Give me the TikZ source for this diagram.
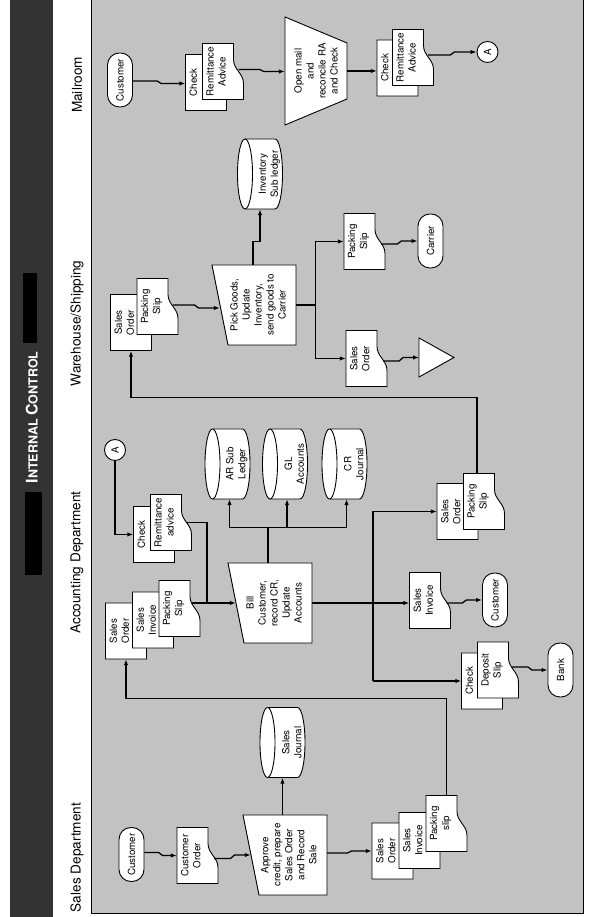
\documentclass[tikz,border=0pt]{standalone}
\usepackage{fontspec}
\setmainfont{TeX Gyre Heros}
\usetikzlibrary{arrows.meta, calc}

\newcommand{\boxfont}{\fontsize{9.8}{12}\selectfont}
% document symbol with curled lower edge
\newcommand{\docat}[3]{%
  \filldraw[shp] ($(#2)+(-28,20.5)$) -- ++(56,0) -- ++(0,-31) -- ++(-16,0)
    to[out=180,in=0] ++(-24,-10) -- ++(-16,0) -- cycle;
  \node[doc] (#1) at (#2) {\parbox[c][33pt][t]{54pt}{\centering #3}};}
% disk file, text sits below the lid
\newcommand{\diskat}[3]{%
  \filldraw[shp] ($(#2)+(-35,15)$) -- ++(0,-30)
    arc[start angle=180, end angle=360, x radius=35, y radius=7.5] -- ++(0,30)
    arc[start angle=0, end angle=180, x radius=35, y radius=7.5] -- cycle;
  \draw[shp] ($(#2)+(-35,15)$) arc[start angle=180, end angle=360, x radius=35, y radius=7.5];
  \node[disk] (#1) at (#2) {\parbox[c][38pt][b]{66pt}{\centering #3\par}};}
% manual input step
\newcommand{\manat}[3]{%
  \filldraw[shp] ($(#2)+(-40,-38)$) -- ++(80,0) -- ++(0,84) -- ++(-80,-16) -- cycle;
  \node[task] (#1) at (#2) {#3};}

\begin{document}
\begin{tikzpicture}[x=1pt, y=1pt,
  shp/.style={draw=black, fill=white, line width=0.9pt},
  doc/.style={minimum width=56, minimum height=41, inner sep=0, font=\boxfont},
  disk/.style={minimum width=70, minimum height=45, inner sep=0, font=\boxfont},
  task/.style={minimum width=80, minimum height=76, inner sep=0, align=center, font=\boxfont},
  term/.style={shp, rounded corners=12pt, minimum width=54, minimum height=25,
               inner sep=0, font=\boxfont},
  conn/.style={shp, circle, minimum size=21, inner sep=0, font=\boxfont},
  lane/.style={font=\fontsize{13.6}{16}\selectfont, inner sep=0},
  wire/.style={line width=1.3pt},
  arr/.style={wire, -{Latex[length=6pt, width=4.5pt]}},
  bolt/.style={arr, to path={let \p1=(\tikztostart), \p2=(\tikztotarget),
               \n1={(\y1+\y2)/2} in -- (\x1,\n1+2pt) -- (\x2,\n1-2pt) -- (\tikztotarget)}}
]
\useasboundingbox (0,0) rectangle (595,917);
\begin{scope}[transform canvas={rotate=90}]
  % page frame
  \fill[black!24] (4,-91) rectangle (917,-583);
  \draw[line width=0.9pt] (917,-91) -- (4,-91) -- (4,-583) -- (917,-583);
  \fill[black!80] (0,-10) rectangle (917,-53);
  \fill[black] (574,-23) rectangle (644,-37);
  \fill[black] (342,-25) rectangle (425,-42);
  \node[anchor=base, inner sep=0, text=white, font=\bfseries\fontsize{12.5}{12.5}\selectfont]
    (ttl) at (499.5,-37.5) {{\fontsize{16}{16}\selectfont I}NTERNAL {\fontsize{16}{16}\selectfont C}ONTROL};
  \node[lane] (hsales) at (59.5,-77) {Sales Department};
  \node[lane] (hacc) at (354.5,-77) {Accounting Department};
  \node[lane] (hware) at (593.5,-77) {Warehouse/Shipping};
  \node[lane] (hmail) at (832,-77) {Mailroom};

  % sales department
  \node[term] (scust) at (62.5,-131.5) {Customer};
  \docat{sorder}{61.5,-197.5}{Customer\\Order}
  \manat{approve}{62,-289}{Approve\\credit, prepare\\Sales Order\\and Record\\Sale}
  \diskat{sjour}{174.5,-282.5}{Sales\\Journal}
  \docat{sso}{66,-392.5}{Sales\\Order}
  \docat{ssi}{76.5,-419.5}{Sales\\Invoice}
  \docat{sps}{93.5,-446.5}{Packing\\slip}

  % accounting department
  \node[conn] (conA2) at (467,-115) {A};
  \docat{achk}{382.5,-154}{Check}
  \docat{ara}{394.5,-171}{Remittance\\advice}
  \docat{aso}{286,-126}{Sales\\Order}
  \docat{asi}{297,-153}{Sales\\Invoice}
  \docat{aps}{308.5,-179.5}{Packing\\Slip}
  \manat{bill}{314,-274}{Bill\\Customer,\\record CR,\\Update\\Accounts}
  \diskat{arsub}{453,-227.5}{AR Sub\\Ledger}
  \diskat{glacc}{453,-285}{GL\\Accounts}
  \diskat{crj}{453,-344.5}{CR\\Journal}
  \docat{bsi}{316.5,-430}{Sales\\Invoice}
  \node[term] (bcust) at (317,-495) {Customer};
  \docat{bso}{405.5,-457.5}{Sales\\Order}
  \docat{bps}{415.5,-484}{Packing\\Slip}
  \docat{bchk}{236,-482}{Check}
  \docat{bdep}{247,-498}{Deposit\\Slip}
  \node[term] (bank) at (247,-560.5) {Bank};

  % warehouse / shipping
  \docat{wso}{594.5,-131}{Sales\\Order}
  \docat{wps}{610.5,-157.5}{Packing\\Slip}
  \manat{pick}{612,-258}{Pick Goods,\\Update\\Inventory,\\send goods to\\Carrier}
  \diskat{inv}{743,-260}{Inventory\\Sub ledger}
  \docat{ops}{675.5,-364.5}{Packing\\Slip}
  \node[term] (carrier) at (676,-430.5) {Carrier};
  \docat{oso}{558.5,-366.5}{Sales\\Order}
  \coordinate (file) at (559.5,-419);
  \filldraw[shp] (file) ++(-19.5,0) -- ++(39,0) -- ++(-19.5,-35) -- cycle;

  % mailroom
  \node[term] (cust1) at (837,-120) {Customer};
  \docat{chk1}{834.5,-206}{Check}
  \docat{ra1}{845.5,-223}{Remittance\\Advice}
  \filldraw[shp] (792,-285) -- (900,-285) -- (874,-347) -- (818,-347) -- cycle;
  \node[task, minimum width=108, minimum height=62] (open) at (846,-316)
    {Open mail\\and\\reconcile RA\\and Check};
  \docat{chk2}{849,-397.5}{Check}
  \docat{ra2}{859.5,-413}{Remittance\\Advice}
  \node[conn] (conA1) at (865,-487.5) {A};

  % flows: sales
  \draw[bolt] ([xshift=2pt]scust.south) to (sorder.north);
  \draw[bolt] ([xshift=-3pt,yshift=4pt]sorder.south) to (approve.north);
  \draw[arr] (approve.east |- sjour.west) -- (sjour.west);
  \draw[bolt] ([xshift=2pt]approve.south) to (sso.north);
  \draw[arr] (sps.east) -- ++(97,0) |- (aso.west);

  % flows: accounting
  \draw[arr] (conA2.west) -| (achk.north);
  \coordinate (merge) at (314,-207);
  \draw[wire] ([yshift=5pt]ara.south) |- (merge);
  \draw[wire] ([xshift=5.5pt,yshift=8pt]aps.south) -- (merge);
  \draw[arr] (merge) -- (bill.north);
  \draw[wire] ([yshift=6pt]bill.east) -- ++(35,0) coordinate (bus);
  \draw[wire] ([yshift=-2pt]bus |- arsub.west) -- ([yshift=-2pt]bus |- crj.west);
  \draw[arr] ([yshift=-2pt]bus |- arsub.west) -- ([yshift=-2pt]arsub.west);
  \draw[arr] ([yshift=-2pt]bus |- glacc.west) -- ([yshift=-2pt]glacc.west);
  \draw[arr] ([yshift=-2pt]bus |- crj.west) -- ([yshift=-2pt]crj.west);
  \draw[arr] (bill.south) -- (bill.south |- bsi.north);
  \coordinate (split) at (314,-373);
  \draw[wire] (split -| bso.north) -- (split -| bchk.north);
  \draw[arr] (split -| bso.north) -- (bso.north);
  \draw[arr] (split -| bchk.north) -- (bchk.north);
  \draw[bolt] ([xshift=-2.5pt,yshift=4pt]bsi.south) to (bcust.north);
  \draw[bolt] ([xshift=3pt,yshift=6.5pt]bdep.south) to (bank.north);
  \draw[arr] ([yshift=7pt]bps.east) -- ++(75.5,0) |- (wso.west);

  % flows: warehouse
  \draw[bolt] ([xshift=1.5pt,yshift=5pt]wps.south) to ([xshift=-3pt]pick.north);
  \draw[arr] ([yshift=5pt]pick.east) -- ++(23,0) |- (inv.west);
  \draw[wire] (pick.south) -- ++(0,-19) coordinate (fork);
  \draw[wire] (fork -| oso.north) -- (fork -| ops.north);
  \draw[arr] (fork -| ops.north) -- (ops.north);
  \draw[arr] (fork -| oso.north) -- (oso.north);
  \draw[bolt] ([xshift=-2.5pt,yshift=4pt]ops.south) to (carrier.north);
  \draw[bolt] ([xshift=-2.5pt,yshift=4pt]oso.south) to (file);

  % flows: mailroom
  \draw[bolt] ([xshift=-1pt]cust1.south) to ([xshift=-1pt]chk1.north);
  \draw[bolt] ([xshift=2pt,yshift=5pt]ra1.south) to (ra1.south |- open.north);
  \draw[arr] (open.south) -- (open.south |- chk2.north);
  \draw[bolt] ([xshift=2.5pt,yshift=5.5pt]ra2.south) to (conA1.north);
\end{scope}
\end{tikzpicture}
\end{document}
